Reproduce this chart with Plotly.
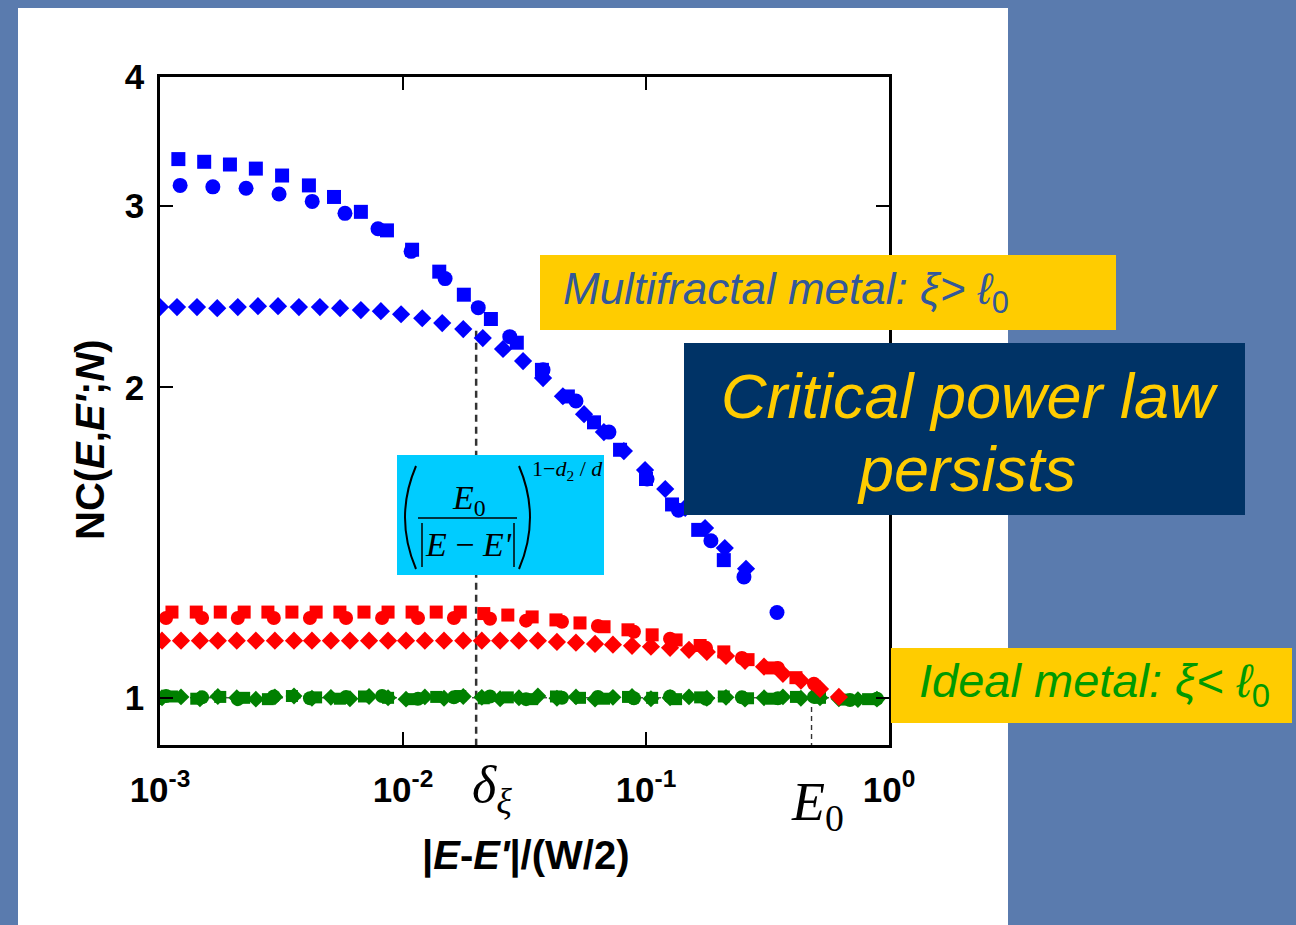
import plotly.graph_objects as go

# ---------------- data ----------------
blue_sq_x = [1.19e-3, 1.52e-3, 1.94e-3, 2.48e-3, 3.18e-3, 4.10e-3, 5.20e-3, 6.71e-3, 8.59e-3,
             1.09e-2, 1.41e-2, 1.78e-2, 2.30e-2, 2.94e-2, 3.73e-2, 4.77e-2, 6.11e-2, 7.82e-2,
             0.100, 0.128, 0.164, 0.209]
blue_sq_y = [3.33, 3.31, 3.29, 3.26, 3.21, 3.14, 3.06, 2.96, 2.84, 2.72, 2.59, 2.46, 2.33,
             2.21, 2.08, 1.96, 1.85, 1.74, 1.63, 1.54, 1.455, 1.36]

blue_ci_x = [1.21e-3, 1.65e-3, 2.26e-3, 3.09e-3, 4.23e-3, 5.77e-3, 7.89e-3, 1.08e-2, 1.49e-2,
             2.04e-2, 2.75e-2, 3.77e-2, 5.15e-2, 7.04e-2, 0.101, 0.136, 0.185, 0.253, 0.346]
blue_ci_y = [3.14, 3.13, 3.12, 3.08, 3.03, 2.95, 2.85, 2.71, 2.55, 2.39, 2.24, 2.08, 1.94,
             1.81, 1.63, 1.52, 1.42, 1.31, 1.21]

blue_di_x = [1.00e-3, 1.175e-3, 1.42e-3, 1.72e-3, 2.09e-3, 2.53e-3, 3.06e-3, 3.73e-3, 4.55e-3,
             5.51e-3, 6.71e-3, 8.11e-3, 9.82e-3, 1.20e-2, 1.45e-2, 1.77e-2, 2.13e-2, 2.58e-2,
             3.12e-2, 3.77e-2, 4.55e-2, 5.56e-2, 6.71e-2, 8.11e-2, 9.91e-2, 0.120, 0.145,
             0.175, 0.211, 0.258]
blue_di_y = [2.393, 2.393, 2.393, 2.387, 2.393, 2.398, 2.398, 2.393, 2.393, 2.387, 2.377,
             2.371, 2.355, 2.334, 2.309, 2.278, 2.233, 2.179, 2.121, 2.042, 1.961, 1.884,
             1.810, 1.735, 1.663, 1.594, 1.528, 1.461, 1.397, 1.334]

red_sq_x = [1.12e-3, 1.41e-3, 1.77e-3, 2.22e-3, 2.78e-3, 3.49e-3, 4.39e-3, 5.50e-3, 6.91e-3,
            8.68e-3, 1.09e-2, 1.37e-2, 1.72e-2, 2.15e-2, 2.70e-2, 3.40e-2, 4.26e-2, 5.35e-2,
            6.72e-2, 8.43e-2, 0.106, 0.133, 0.167, 0.209, 0.263, 0.330, 0.414]
red_sq_y = [1.211, 1.211, 1.211, 1.211, 1.211, 1.211, 1.211, 1.211, 1.211, 1.211, 1.211,
            1.211, 1.211, 1.207, 1.203, 1.198, 1.190, 1.182, 1.172, 1.164, 1.151, 1.138,
            1.124, 1.108, 1.089, 1.069, 1.046]

red_ci_x = [1.059e-3, 1.49e-3, 2.09e-3, 2.94e-3, 4.14e-3, 5.83e-3, 8.20e-3, 1.153e-2, 1.62e-2,
            2.28e-2, 3.21e-2, 4.51e-2, 6.34e-2, 8.92e-2, 0.1256, 0.1766, 0.248, 0.349, 0.491]
red_ci_y = [1.195, 1.195, 1.195, 1.195, 1.195, 1.195, 1.195, 1.195, 1.195, 1.193, 1.188,
            1.185, 1.174, 1.159, 1.141, 1.118, 1.093, 1.069, 1.032]

red_di_x = [1.019e-3, 1.22e-3, 1.46e-3, 1.73e-3, 2.07e-3, 2.48e-3, 2.97e-3, 3.56e-3, 4.22e-3,
            5.05e-3, 6.05e-3, 7.25e-3, 8.68e-3, 1.029e-2, 1.23e-2, 1.475e-2, 1.77e-2, 2.11e-2,
            2.51e-2, 3.00e-2, 3.59e-2, 4.30e-2, 5.15e-2, 6.17e-2, 7.31e-2, 8.76e-2, 0.1048,
            0.1256, 0.1503, 0.178, 0.2134, 0.2555, 0.306, 0.366, 0.434, 0.520, 0.622]
red_di_y = [1.136, 1.136, 1.136, 1.136, 1.136, 1.136, 1.136, 1.136, 1.136, 1.136, 1.136,
            1.136, 1.136, 1.136, 1.136, 1.136, 1.136, 1.136, 1.136, 1.136, 1.136, 1.133,
            1.131, 1.128, 1.126, 1.123, 1.121, 1.118, 1.113, 1.108, 1.098, 1.086, 1.072,
            1.055, 1.039, 1.020, 1.002]

green_sq_x = red_sq_x + [0.520, 0.653, 0.820]
green_sq_y = [1.003, 0.998, 1.002, 1.000, 0.997, 1.004, 1.001, 0.998, 1.003, 1.000, 0.997,
              1.002, 1.004, 0.999, 1.001, 0.997, 1.003, 1.000, 0.998, 1.002, 1.000, 0.997,
              1.001, 1.003, 0.999, 0.998, 1.002, 1.000, 0.996, 0.997]
green_ci_x = red_ci_x + [0.691, 0.892]
green_ci_y = [1.004, 1.001, 0.997, 1.003, 0.999, 1.002, 1.004, 0.998, 1.001, 1.003, 0.997,
              1.000, 1.002, 0.999, 1.003, 0.998, 1.001, 0.999, 1.002, 0.995, 0.998]
green_di_x = red_di_x + [0.745, 0.892]
green_di_y = [1.000, 1.002, 0.998, 1.003, 1.000, 0.997, 1.002, 1.004, 0.999, 1.001, 0.998,
              1.003, 1.000, 0.997, 1.002, 0.999, 1.003, 1.001, 0.998, 1.000, 1.004, 0.999,
              1.002, 0.997, 1.001, 1.003, 0.998, 1.000, 1.002, 0.999, 1.001, 0.997, 1.000,
              1.002, 0.999, 1.000, 0.998, 0.996, 0.997]

x_tickvals = [1e-3, 1e-2, 1e-1, 1.0]
x_ticktext = ["<b>10<sup>-3</sup></b>", "<b>10<sup>-2</sup></b>",
              "<b>10<sup>-1</sup></b>", "<b>10<sup>0</sup></b>"]
y_tickvals = [1, 2, 3, 4]
y_ticktext = ["<b>1</b>", "<b>2</b>", "<b>3</b>", "<b>4</b>"]

delta_xi = 0.02
E0 = 0.48

BLUE, RED, GREEN = "#0000FF", "#FF0000", "#008000"

# ---------------- figure ----------------
fig = go.Figure()

# reference lines
fig.add_trace(go.Scatter(x=[1e-3, 1.0], y=[1, 1], mode="lines",
                         line=dict(color="black", width=1, dash="dot"), hoverinfo="skip"))
fig.add_trace(go.Scatter(x=[delta_xi, delta_xi], y=[2.27, 0.9], mode="lines",
                         line=dict(color="#333333", width=2.5, dash="7px,5px"), hoverinfo="skip"))
fig.add_trace(go.Scatter(x=[E0, E0], y=[1.02, 0.9], mode="lines",
                         line=dict(color="#333333", width=1.4, dash="5px,4px"), hoverinfo="skip"))

def pts(x, y, color, symbol, size):
    fig.add_trace(go.Scatter(x=x, y=y, mode="markers",
                             marker=dict(color=color, symbol=symbol, size=size, line=dict(width=0))))

pts(green_sq_x, green_sq_y, GREEN, "square", 12)
pts(green_ci_x, green_ci_y, GREEN, "circle", 14)
pts(green_di_x, green_di_y, GREEN, "diamond", 13)
pts(red_sq_x, red_sq_y, RED, "square", 13)
pts(red_ci_x, red_ci_y, RED, "circle", 14)
pts(red_di_x, red_di_y, RED, "diamond", 14)
pts(blue_di_x, blue_di_y, BLUE, "diamond", 14)
pts(blue_sq_x, blue_sq_y, BLUE, "square", 14)
pts(blue_ci_x, blue_ci_y, BLUE, "circle", 15)

# ---------------- layout helpers (pixel -> paper) ----------------
L, R, T, B = 160, 889, 77, 745
def px(x):
    return (x - L) / (R - L)
def py(y):
    return (B - y) / (B - T)

def rect(x0, y0, x1, y1, color, layer="above"):
    return dict(type="rect", xref="paper", yref="paper", x0=px(x0), x1=px(x1),
                y0=py(y1), y1=py(y0), fillcolor=color, line=dict(width=0), layer=layer)

def seg(x0, y0, x1, y1, w=1.5):
    return dict(type="line", xref="paper", yref="paper", x0=px(x0), x1=px(x1),
                y0=py(y0), y1=py(y1), line=dict(color="black", width=w), layer="above")

def paren(xa, xc, ya, yb):
    ym = (ya + yb) / 2
    path = f"M {px(xa)},{py(ya)} Q {px(xc)},{py(ym)} {px(xa)},{py(yb)}"
    return dict(type="path", xref="paper", yref="paper", path=path,
                line=dict(color="black", width=2), layer="above")

shapes = [
    rect(18, 8, 1008, 925, "white", layer="below"),
    rect(540, 255, 1116, 330, "#FFCC00"),
    rect(684, 343, 1245, 515, "#003366"),
    rect(891, 648, 1292, 723, "#FFCC00"),
    rect(397, 455, 604, 575, "#00CCFF"),
    paren(416, 394, 466, 569),
    paren(519, 541, 466, 569),
    seg(418, 518, 517, 518, 1.5),
    seg(422, 523, 422, 567, 1.5),
    seg(514, 523, 514, 567, 1.5),
]

SANS = "Liberation Sans"
SERIF = "Liberation Serif"

def ann(text, x, y, size, color="black", family=SANS, xanchor="center", angle=0):
    return dict(text=text, x=px(x), y=py(y), xref="paper", yref="paper", showarrow=False,
                xanchor=xanchor, yanchor="middle", textangle=angle,
                font=dict(family=family, size=size, color=color))

annotations = [
    ann("<b>NC(<i>E</i>,<i>E'</i>;<i>N</i>)</b>", 90, 440, 40, angle=-90),
    ann("<b>|<i>E</i>-<i>E'</i>|/(W/2)</b>", 525, 855, 40),
    ann("<i>δ</i><sub><i>ξ</i></sub>", 492, 788, 52, family=SERIF),
    ann("<i>E</i><sub>0</sub>", 817, 805, 54, family=SERIF),
    ann("<i>E</i><sub>0</sub>", 469, 500, 34, family=SERIF),
    ann("<i>E</i> − <i>E'</i>", 468, 544, 34, family=SERIF),
    ann("1−<i>d</i><sub>2</sub> / <i>d</i>", 567, 470, 22, family=SERIF),
    ann("<i>Multifractal metal: ξ&gt; ℓ</i><sub>0</sub>", 561, 292, 44, color="#33589A",
        xanchor="left"),
    ann("<i>Critical power law</i>", 969, 396, 63, color="#FFCC00"),
    ann("<i>persists</i>", 966, 469, 63, color="#FFCC00"),
    ann("<i>Ideal metal: ξ&lt; ℓ</i><sub>0</sub>", 917, 684, 47, color="#009A00",
        xanchor="left"),
]

axis_common = dict(showline=True, linecolor="black", linewidth=2.5, mirror="ticks",
                   ticks="inside", tickwidth=2, ticklen=13, tickcolor="black",
                   showgrid=False, zeroline=False,
                   tickfont=dict(family=SANS, size=35, color="black"))

fig.update_layout(
    width=1296, height=925,
    margin=dict(l=L, r=1296 - R, t=T, b=925 - B, pad=0),
    paper_bgcolor="#5A7BAE", plot_bgcolor="white",
    showlegend=False,
    xaxis=dict(type="log", range=[-3, 0], tickvals=x_tickvals, ticktext=x_ticktext,
               ticklabelstandoff=12, **axis_common),
    yaxis=dict(type="log", range=[-0.045757, 0.60206], tickvals=y_tickvals, ticktext=y_ticktext,
               ticklabelstandoff=6, **axis_common),
    shapes=shapes,
    annotations=annotations,
)

fig.write_html("out.html")
